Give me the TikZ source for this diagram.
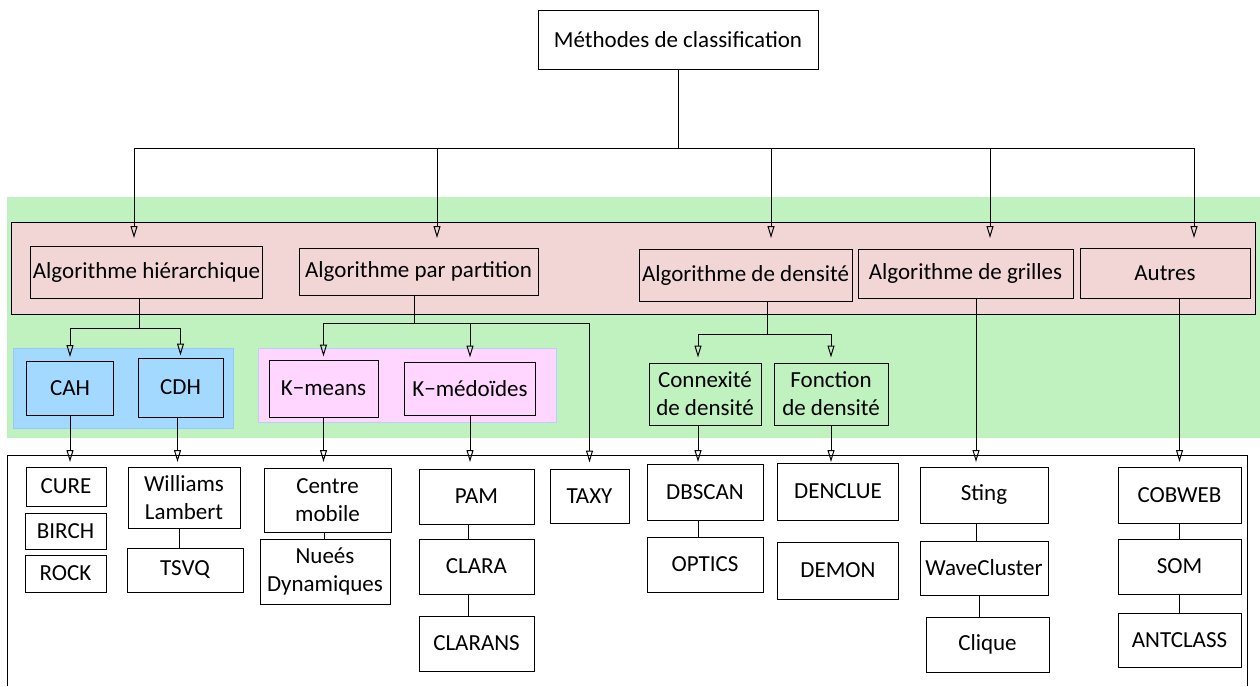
\documentclass[tikz,border=0pt]{standalone}
\usepackage{fontspec}
\setmainfont{Carlito}
\usepackage{tikz}
\usetikzlibrary{arrows.meta}
\definecolor{vert}{RGB}{192,242,192}
\definecolor{rose}{RGB}{242,214,214}
\definecolor{bleu}{RGB}{163,217,255}
\definecolor{bleubord}{RGB}{150,200,255}
\definecolor{mauve}{RGB}{255,214,255}
\definecolor{mauvebord}{RGB}{185,205,255}

\begin{document}
\begin{tikzpicture}[x=1pt,y=-1pt,
  every node/.style={font={\fontsize{23}{28}\selectfont}},
  boite/.style={draw,line width=1pt,inner sep=0pt,align=center},
  fleche/.style={-{Triangle[open,length=12pt,width=7pt]},line width=1pt},
  trait/.style={line width=1pt}]
 \useasboundingbox (0,0) rectangle (1260,686);
 \fill[vert] (7,197) rectangle (1260,438);
 \draw[fill=rose,line width=1pt] (11,222) rectangle (1255,314);
 \draw[fill=bleu,draw=bleubord] (13,348) rectangle (233,428);
 \draw[fill=mauve,draw=mauvebord] (258,348) rectangle (556,422);
 \draw[line width=1pt] (7,686) |- (1247,455) -- (1247,686);

 \node[boite,minimum width=280,minimum height=59] (meth) at (678,39.5) {Méthodes de classification};

 \node[boite,minimum width=232,minimum height=52] (hier) at (146.5,272.5) {Algorithme hiérarchique};
 \node[boite,minimum width=239,minimum height=47] (part) at (418.5,271.5) {Algorithme par partition};
 \node[boite,minimum width=213,minimum height=52] (dens) at (745.5,275) {Algorithme de densité};
 \node[boite,minimum width=215,minimum height=49] (grill) at (965.5,273.5) {Algorithme de grilles};
 \node[boite,minimum width=170,minimum height=50] (autres) at (1165,273) {Autres};

 \node[boite,fill=bleu,minimum width=87,minimum height=54] (cah) at (70,388.5) {CAH};
 \node[boite,fill=bleu,minimum width=85,minimum height=59] (cdh) at (180.5,387.5) {CDH};
 \node[boite,fill=mauve,minimum width=109,minimum height=57] (kmeans) at (323.5,388.5) {K−means};
 \node[boite,fill=mauve,minimum width=131,minimum height=53] (kmed) at (470,388.5) {K−médoïdes};
 \node[boite,fill=vert,minimum width=112,minimum height=62] (conn) at (705,394) {Connexité\\de densité};
 \node[boite,fill=vert,minimum width=114,minimum height=62] (fonc) at (831,394) {Fonction\\de densité};

 \node[boite,minimum width=80,minimum height=39] (cure) at (66,486.5) {CURE};
 \node[boite,minimum width=81,minimum height=36] (birch) at (65.5,531) {BIRCH};
 \node[boite,minimum width=81,minimum height=37] (rock) at (65.5,573.5) {ROCK};
 \node[boite,minimum width=112,minimum height=61] (wl) at (184,497.5) {Williams\\Lambert};
 \node[boite,minimum width=116,minimum height=44] (tsvq) at (185,570) {TSVQ};
 \node[boite,minimum width=127,minimum height=64] (cm) at (327.5,500) {Centre\\mobile};
 \node[boite,minimum width=130,minimum height=65] (nd) at (325,571.5) {Nueés\\Dynamiques};
 \node[boite,minimum width=115,minimum height=55] (pam) at (476.5,496.5) {PAM};
 \node[boite,minimum width=115,minimum height=55] (clara) at (476.5,566.5) {CLARA};
 \node[boite,minimum width=115,minimum height=55] (clarans) at (476.5,643.5) {CLARANS};
 \node[boite,minimum width=79,minimum height=54] (taxy) at (589.5,496) {TAXY};
 \node[boite,minimum width=116,minimum height=56] (dbscan) at (705,492) {DBSCAN};
 \node[boite,minimum width=116,minimum height=55] (optics) at (705,564.5) {OPTICS};
 \node[boite,minimum width=121,minimum height=57] (denclue) at (838,491.5) {DENCLUE};
 \node[boite,minimum width=121,minimum height=57] (demon) at (838,570.5) {DEMON};
 \node[boite,minimum width=128,minimum height=56] (sting) at (984,495) {Sting};
 \node[boite,minimum width=128,minimum height=54] (wave) at (984,568) {WaveCluster};
 \node[boite,minimum width=123,minimum height=55] (clique) at (987.5,644.5) {Clique};
 \node[boite,minimum width=123,minimum height=56] (cobweb) at (1179.5,495) {COBWEB};
 \node[boite,minimum width=123,minimum height=55] (som) at (1179.5,566.5) {SOM};
 \node[boite,minimum width=123,minimum height=54] (antclass) at (1179.5,640) {ANTCLASS};

 \coordinate (bus) at (678,148);
 \coordinate (e1) at (134,238);
 \coordinate (e2) at (437,238);
 \coordinate (e3) at (771,238);
 \coordinate (e4) at (990,238);
 \coordinate (e5) at (1194,238);
 \draw[trait] (meth) -- (bus);
 \draw[fleche] (bus) -| (e1);
 \draw[fleche] (bus) -| (e2);
 \draw[fleche] (bus) -| (e3);
 \draw[fleche] (bus) -| (e4);
 \draw[fleche] (bus) -| (e5);

 \coordinate (h) at (139.5,328);
 \coordinate (p) at (414,323);
 \coordinate (d) at (767,334);
 \draw[trait] (hier.south -| h) -- (h);
 \draw[fleche,shorten >=4pt] (h) -| (cah.north);
 \draw[fleche,shorten >=2pt] (h) -| (cdh.north);
 \draw[trait] (part.south -| p) -- (p);
 \draw[fleche,shorten >=3pt] (p) -| (kmeans.north);
 \draw[fleche,shorten >=4pt] (p) -| (kmed.north);
 \draw[fleche,shorten >=6pt] (p) -| (taxy.north);
 \draw[trait] (dens.south -| d) -- (d);
 \draw[fleche,shorten >=5pt] (d) -| ([xshift=-7pt]conn.north);
 \draw[fleche,shorten >=5pt] (d) -| (fonc.north);

 \coordinate (fr) at (0,462);
 \coordinate (g) at (976,462);
 \draw[fleche] (cah.south) -- (cah.south |- fr);
 \draw[fleche] ([xshift=-3pt]cdh.south) -- ([xshift=-3pt]cdh.south |- fr);
 \draw[fleche] (kmeans.south) -- (kmeans.south |- fr);
 \draw[fleche] (kmed.south) -- (kmed.south |- fr);
 \draw[fleche] ([xshift=-7pt]conn.south) -- ([xshift=-7pt]conn.south |- fr);
 \draw[fleche] (fonc.south) -- (fonc.south |- fr);
 \draw[fleche] (grill.south -| g) -- (g);
 \draw[fleche] (autres.south -| cobweb.north) -- (fr -| cobweb.north);

 \draw[trait] ([xshift=-5pt]wl.south) -- ([xshift=-5pt]wl.south |- tsvq.north);
 \draw[trait] ([xshift=-3pt]cm.south) -- ([xshift=-3pt]cm.south |- nd.north);
 \draw[trait] ([xshift=-8pt]pam.south) -- ([xshift=-8pt]clara.north);
 \draw[trait] ([xshift=-8pt]clara.south) -- ([xshift=-8pt]clarans.north);
 \draw[trait] ([xshift=-7pt]dbscan.south) -- ([xshift=-7pt]optics.north);
 \draw[trait] ([xshift=-8pt]sting.south) -- ([xshift=-8pt]wave.north);
 \draw[trait] ([xshift=-5pt]wave.south) -- ([xshift=-5pt]wave.south |- clique.north);
 \draw[trait] (cobweb.south) -- (som.north);
 \draw[trait] (som.south) -- (antclass.north);
\end{tikzpicture}
\end{document}
